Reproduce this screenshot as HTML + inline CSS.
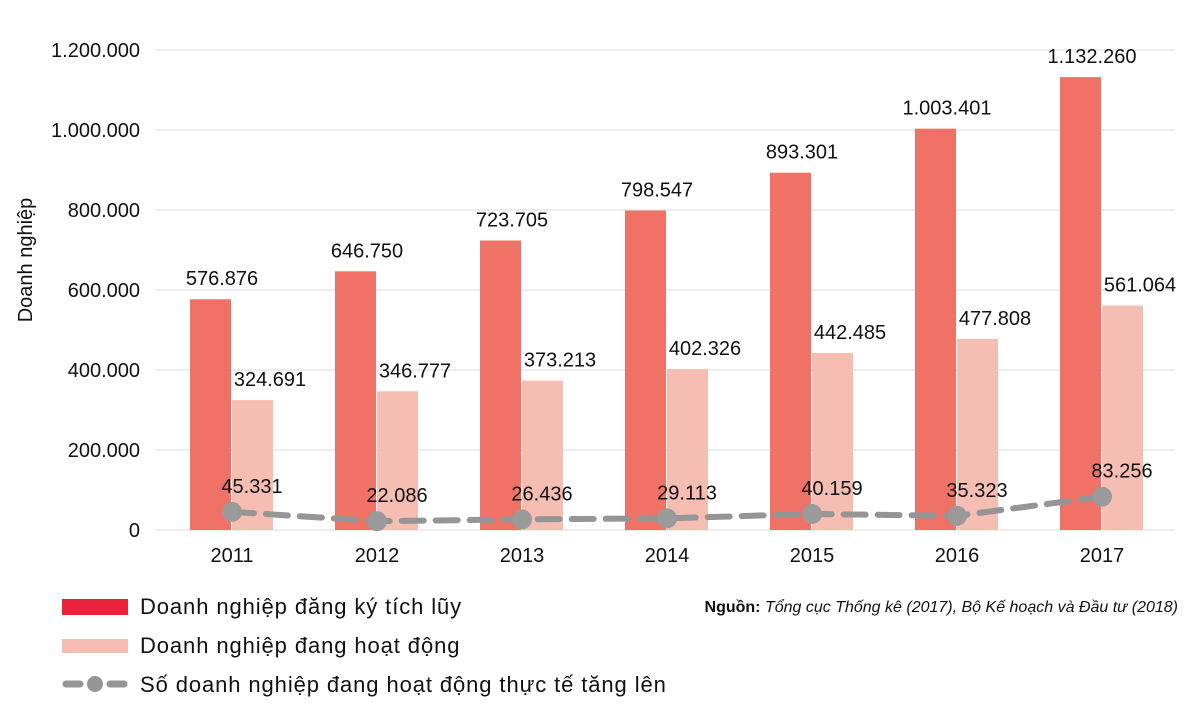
<!DOCTYPE html>
<html><head><meta charset="utf-8">
<style>
body{margin:0;background:#fff;width:1200px;height:709px;overflow:hidden;font-family:"Liberation Sans",sans-serif;}
svg text{font-family:"Liberation Sans",sans-serif;}
</style></head>
<body>
<svg id="chart" width="1200" height="709">
<g id="grid"></g><g id="bars"></g><g id="line"></g><g id="labels"></g>
<text x="32" y="260" transform="rotate(-90 32 260)" text-anchor="middle" font-size="20" fill="#111">Doanh nghiệp</text>
<g>
<rect x="62" y="599" width="66" height="16" fill="#e8223c"/>
<text x="140" y="614" font-size="22" letter-spacing="0.9" fill="#111">Doanh nghiệp đăng ký tích lũy</text>
<rect x="62" y="639" width="66" height="14" fill="#f6bdb2"/>
<text x="140" y="653" font-size="22" letter-spacing="0.9" fill="#111">Doanh nghiệp đang hoạt động</text>
<line x1="66" y1="684" x2="80" y2="684" stroke="#959595" stroke-width="7" stroke-linecap="round"/>
<line x1="110" y1="684" x2="124" y2="684" stroke="#959595" stroke-width="7" stroke-linecap="round"/>
<circle cx="95" cy="684" r="8" fill="#959595"/>
<text x="140" y="692" font-size="22" letter-spacing="0.9" fill="#111">Số doanh nghiệp đang hoạt động thực tế tăng lên</text>
</g>
<text x="1178" y="612" text-anchor="end" font-size="16" fill="#111"><tspan font-weight="bold">Nguồn:</tspan><tspan font-style="italic"> Tổng cục Thống kê (2017), Bộ Kế hoạch và Đầu tư (2018)</tspan></text>
</svg>
<script>
const years=["2011","2012","2013","2014","2015","2016","2017"];
const registered=[576876,646750,723705,798547,893301,1003401,1132260];
const active=[324691,346777,373213,402326,442485,477808,561064];
const increase=[45331,22086,26436,29113,40159,35323,83256];
const yTicks=[0,200000,400000,600000,800000,1000000,1200000];
const NS="http://www.w3.org/2000/svg";
const y=v=>530-v/1200000*480;
const x=i=>232+i*145;
const fmt=v=>v.toString().replace(/\B(?=(\d{3})+(?!\d))/g,".");
function mk(t,a,p){const e=document.createElementNS(NS,t);for(const k in a)e.setAttribute(k,a[k]);document.getElementById(p).appendChild(e);return e;}
yTicks.forEach(t=>{
 const l=mk('line',{x1:155,x2:1175,y1:y(t),y2:y(t),stroke:'#d9d9d9','stroke-width':1},'grid');
 
 
 const tx=mk('text',{x:140,y:y(t)+7,'text-anchor':'end','font-size':20,fill:'#111'},'grid');tx.textContent=fmt(t);
 
 
});
years.forEach((yr,i)=>{
 const r=mk('rect',{x:x(i)-42,y:y(registered[i]),width:41,height:530-y(registered[i]),fill:'#f07266'},'bars');
 
 
 const p=mk('rect',{x:x(i),y:y(active[i]),width:41,height:530-y(active[i]),fill:'#f6bdb2'},'bars');
 
 
 const t1=mk('text',{x:x(i)-10,y:y(registered[i])-14,'text-anchor':'middle','font-size':20,fill:'#111'},'labels');t1.textContent=fmt(registered[i]);
 
 
 const t2=mk('text',{x:x(i)+38,y:y(active[i])-14,'text-anchor':'middle','font-size':20,fill:'#111'},'labels');t2.textContent=fmt(active[i]);
 
 
 const t3=mk('text',{x:x(i)+20,y:y(increase[i])-19,'text-anchor':'middle','font-size':20,fill:'#111'},'labels');t3.textContent=fmt(increase[i]);
 
 
 const xl=mk('text',{x:x(i),y:562,'text-anchor':'middle','font-size':20,fill:'#111'},'labels');xl.textContent=yr;
 
 
});
const pl=mk('polyline',{points:years.map((_,i)=>x(i)+','+y(increase[i])).join(' '),fill:'none',stroke:'#959595','stroke-width':6,'stroke-dasharray':'22,12','stroke-linecap':'round'},'line');


years.forEach((yr,i)=>{
 const c=mk('circle',{cx:x(i),cy:y(increase[i]),r:10,fill:'#9a9a9a'},'line');
 
 
});
</script>
</body></html>
